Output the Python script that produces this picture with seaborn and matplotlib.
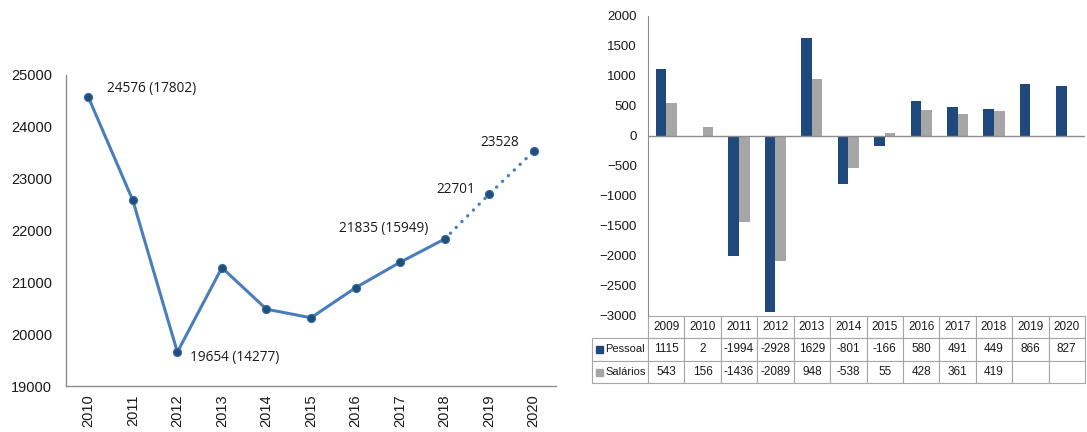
import numpy as np
import pandas as pd
import matplotlib
matplotlib.use('Agg')
import matplotlib.pyplot as plt
from matplotlib.patches import Rectangle
import seaborn as sns

# dados - grafico de linha (emprego)
anos_linha = [2010, 2011, 2012, 2013, 2014, 2015, 2016, 2017, 2018, 2019, 2020]
emprego = [24576, 22582, 19654, 21283, 20482, 20316, 20896, 21387, 21835, 22701, 23528]
anot_anos = [2010, 2012, 2018, 2019, 2020]
anot_textos = ['24576 (17802)', '19654 (14277)', '21835 (15949)', '22701', '23528']

# dados - grafico de barras (variacao)
anos_barra = [2009, 2010, 2011, 2012, 2013, 2014, 2015, 2016, 2017, 2018, 2019, 2020]
pessoal = [1115, 2, -1994, -2928, 1629, -801, -166, 580, 491, 449, 866, 827]
salarios = [543, 156, -1436, -2089, 948, -538, 55, 428, 361, 419, np.nan, np.nan]

sns.set_style('white')
plt.rcParams['font.family'] = ['Liberation Sans', 'DejaVu Sans']

cor_linha = '#4A7EBB'
cor_ponto = '#1F4E79'
cor_pessoal = '#1F497D'
cor_salarios = '#A6A6A6'
cor_eixo = '#8C8C8C'
cor_texto = '#1A1A1A'

fig = plt.figure(figsize=(10.87, 4.32), dpi=100)

# ---------------- grafico da esquerda ----------------
ax1 = fig.add_axes([66 / 1087, 46 / 432, 490 / 1087, 311 / 432])
df_linha = pd.DataFrame({'ano': anos_linha, 'valor': emprego})

sns.lineplot(data=df_linha[df_linha['ano'] <= 2018], x='ano', y='valor', ax=ax1,
             color=cor_linha, linewidth=2.2)
sns.lineplot(data=df_linha[df_linha['ano'] >= 2018], x='ano', y='valor', ax=ax1,
             color=cor_linha, linewidth=2.4, linestyle=(0, (0.05, 2.4)),
             dash_capstyle='round')
sns.scatterplot(data=df_linha, x='ano', y='valor', ax=ax1, s=34, color=cor_ponto,
                edgecolor='#3A6DA8', linewidth=0.8, zorder=3)

offsets = [(19, 8, 'left'), (13, -5, 'left'), (-16, 11, 'right'), (-14, 5, 'right'), (-15, 9, 'right')]
for ano, txt, (dx, dy, ha) in zip(anot_anos, anot_textos, offsets):
    val = emprego[anos_linha.index(ano)]
    ax1.annotate(txt, xy=(ano, val), xytext=(dx, dy), textcoords='offset pixels',
                 ha=ha, va='center', fontsize=9.8, family=['Open Sans', 'DejaVu Sans'],
                 color=cor_texto)

ax1.set_xlim(2009.5, 2020.5)
ax1.set_ylim(19000, 25000)
ax1.set_yticks(range(19000, 25001, 1000))
ax1.set_xticks(anos_linha)
ax1.set_xticks(np.arange(2010.5, 2020.5, 1), minor=True)
ax1.set_xticklabels([str(a) for a in anos_linha], rotation=90)
ax1.tick_params(axis='x', which='major', length=0, pad=6, labelsize=10.5, labelcolor=cor_texto)
ax1.tick_params(axis='x', which='minor', length=4, direction='in', color=cor_eixo)
ax1.tick_params(axis='y', length=4, direction='in', color=cor_eixo, pad=10,
                labelsize=10.5, labelcolor=cor_texto)
ax1.set_xlabel('')
ax1.set_ylabel('')
for s in ['top', 'right']:
    ax1.spines[s].set_visible(False)
for s in ['left', 'bottom']:
    ax1.spines[s].set_color(cor_eixo)
    ax1.spines[s].set_linewidth(1)

# ---------------- grafico da direita ----------------
ax2 = fig.add_axes([648 / 1087, 116 / 432, 437 / 1087, 300 / 432])
df_barra = pd.DataFrame({
    'ano': [str(a) for a in anos_barra] * 2,
    'valor': pessoal + salarios,
    'serie': ['Pessoal'] * len(anos_barra) + ['Salários'] * len(anos_barra),
})
sns.barplot(data=df_barra, x='ano', y='valor', hue='serie', ax=ax2,
            palette={'Pessoal': cor_pessoal, 'Salários': cor_salarios},
            width=0.58, saturation=1, linewidth=0, legend=False)

ax2.axhline(0, color=cor_eixo, linewidth=1)
ax2.set_ylim(-3000, 2000)
ax2.set_yticks(range(-3000, 2001, 500))
ax2.set_xticks([])
ax2.set_xlabel('')
ax2.set_ylabel('')
ax2.tick_params(axis='y', length=4, direction='in', color=cor_eixo, pad=8,
                labelsize=9.5, labelcolor=cor_texto)
for s in ['top', 'right', 'bottom']:
    ax2.spines[s].set_visible(False)
ax2.spines['left'].set_color(cor_eixo)

# tabela de dados por baixo
fmt = lambda v: '' if pd.isna(v) else str(int(v))
linhas = [[''] + [str(a) for a in anos_barra],
          [''] + [fmt(v) for v in pessoal],
          [''] + [fmt(v) for v in salarios]]
larg_rot = 56 / 437
tab = ax2.table(cellText=linhas, cellLoc='center',
                colWidths=[56] + [36.4] * len(anos_barra),
                bbox=[-larg_rot, -67 / 300, 1 + larg_rot, 67 / 300])
tab.auto_set_font_size(False)
tab.set_fontsize(8.5)
for (r, c), cell in tab.get_celld().items():
    cell.set_edgecolor('#A6A6A6')
    cell.set_linewidth(0.8)
    cell.get_text().set_color(cor_texto)
tab[0, 0].visible_edges = ''

for nome, cor, yc in [('Pessoal', cor_pessoal, -0.11), ('Salários', cor_salarios, -0.187)]:
    ax2.add_patch(Rectangle((-52 / 437, yc - 3.5 / 300), 7 / 437, 7 / 300,
                            transform=ax2.transAxes, color=cor, clip_on=False))
    ax2.text(-43 / 437, yc, nome, transform=ax2.transAxes, ha='left', va='center',
             fontsize=8, color=cor_texto)

fig.savefig('out.png', dpi=100)
